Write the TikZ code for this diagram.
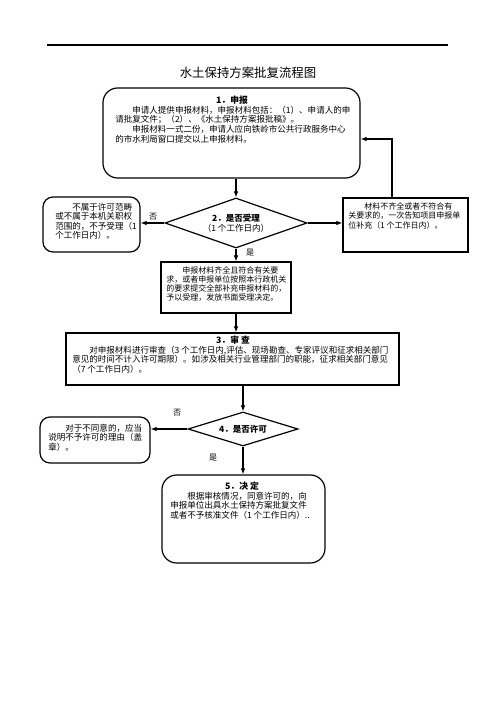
\documentclass[tikz,border=0pt]{standalone}
\usepackage{fontspec}
\setmainfont{Noto Sans CJK SC}
\usetikzlibrary{arrows.meta,shapes.geometric}

\begin{document}
\begin{tikzpicture}[x=0.75pt,y=0.75pt,yscale=-1,xscale=1,
   boxsize/.style 2 args={minimum width=#1*0.75pt,minimum height=#2*0.75pt},
   rbox/.style={draw,line width=0.9pt,rounded corners=11pt,inner sep=0pt},
   rboxsmall/.style={draw,line width=0.9pt,rounded corners=7.5pt,inner sep=0pt},
   sbox/.style={draw,line width=0.9pt,inner sep=0pt},
   dia/.style={draw,diamond,aspect=3,line width=0.9pt,inner sep=0pt,align=center,font=\fontsize{6.4}{7.2}\selectfont},
   txt/.style={inner sep=0pt,anchor=north west,align=left,font=\fontsize{6.4}{7.2}\selectfont},
   head/.style={inner sep=0pt,font=\fontsize{6.6}{7.2}\selectfont\bfseries},
   lab/.style={inner sep=0pt,font=\fontsize{6}{7}\selectfont},
   arr/.style={-{Latex[length=4.5pt,width=3.5pt]},line width=0.8pt}]
   \useasboundingbox (0,0) rectangle (496,702);

   %Straight Lines: page rule
   \draw [line width=0.9pt] (47,45) -- (448,45) ;
   % Text Node
   \node [inner sep=0pt,font=\fontsize{9.3}{11}\selectfont] (title) at (248,73) {水土保持方案批复流程图};

   %Shape: Rounded Rect
   \node [rbox,boxsize={257}{90}] (apply) at (231.5,133) {};
   \node [head] (applyhead) at (232,100) {1．申报};
   % Text Node
   \node [txt] (applytext) at (115,105.7) {\hspace*{2em}申请人提供申报材料，申报材料包括：（1）、申请人的申\\
      请批复文件；（2）、《水土保持方案报批稿》。\\
      \hspace*{2em}申报材料一式二份，申请人应向铁岭市公共行政服务中心\\
      的市水利局窗口提交以上申报材料。};

   %Shape: Diamond
   \node [dia,boxsize={142}{50}] (accepted) at (236,223) {{\bfseries 2．是否受理}\\（1 个工作日内）};

   %Shape: Rounded Rect
   \node [rboxsmall,boxsize={97}{55}] (refuse) at (91.5,224.5) {};
   % Text Node
   \node [txt] (refusetext) at (55,202.7) {\hspace*{2em}不属于许可范畴\\
      或不属于本机关职权\\
      范围的，不予受理（1\\
      个工作日内）。};

   %Shape: Rectangle
   \node [sbox,boxsize={125}{54}] (supply) at (405.5,225) {};
   % Text Node
   \node [txt,font=\fontsize{6}{7.2}\selectfont] (supplytext) at (348,202) {\hspace*{2em}材料不齐全或者不符合有\\
      关要求的，一次告知项目申报单\\
      位补充（1 个工作日内）。};

   %Shape: Rectangle
   \node [sbox,boxsize={130}{51}] (accept) at (226,287.5) {};
   % Text Node
   \node [txt,font=\fontsize{6}{6.9}\selectfont] (accepttext) at (166,266) {\hspace*{2em}申报材料齐全且符合有关要\\
      求，或者申报单位按照本行政机关\\
      的要求提交全部补充申报材料的，\\
      予以受理，发放书面受理决定。};

   %Shape: Rectangle
   \node [sbox,boxsize={333}{52}] (review) at (232.5,359) {};
   \node [head] (reviewhead) at (233,340) {3．审\ 查};
   % Text Node
   \node [txt] (reviewtext) at (72,345.7) {\hspace*{2em}对申报材料进行审查（3 个工作日内,评估、现场勘查、专家评议和征求相关部门\\
      意见的时间不计入许可期限）。如涉及相关行业管理部门的职能，征求相关部门意见\\
      （7 个工作日内）。};

   %Shape: Diamond
   \node [dia,boxsize={110}{34}] (permit) at (243,429) {\bfseries 4．是否许可};

   %Shape: Rounded Rect
   \node [rboxsmall,boxsize={110}{46}] (deny) at (95,440) {};
   % Text Node
   \node [txt] (denytext) at (48,423.7) {\hspace*{2em}对于不同意的，应当\\
      说明不予许可的理由（盖\\
      章）。};

   %Shape: Rounded Rect
   \node [rbox,boxsize={163}{88}] (decide) at (243.5,519) {};
   \node [head] (decidehead) at (242,486) {5．决\ 定};
   % Text Node
   \node [txt] (decidetext) at (170,491.7) {\hspace*{2em}根据审核情况，同意许可的，向\\
      申报单位出具水土保持方案批复文件\\
      或者不予核准文件（1 个工作日内）..};

   % Labels
   \node [lab] (no1) at (153,217) {否};
   \node [lab] (yes1) at (250,253) {是};
   \node [lab] (no2) at (177,413) {否};
   \node [lab] (yes2) at (213,458) {是};

   %Connectors
   \coordinate (back) at (392,139);
   \draw [arr] (accepted.north |- apply.south) -- (accepted.north) ;
   \draw [arr] (accepted.west) -- (refuse.east |- accepted.west) ;
   \draw [arr] (accepted.east) -- (supply.west |- accepted.east) ;
   \draw [arr] (back |- supply.north) -- (back) -- (apply.east |- back) ;
   \draw [arr] (accepted.south) -- (accepted.south |- accept.north) ;
   \draw [arr] (accepted.south |- accept.south) -- (accepted.south |- review.north) ;
   \draw [arr] (permit.north |- review.south) -- (permit.north) ;
   \draw [arr] (permit.west) -- (deny.east |- permit.west) ;
   \draw [arr] (permit.south) -- (permit.south |- decide.north) ;

\end{tikzpicture}
\end{document}
